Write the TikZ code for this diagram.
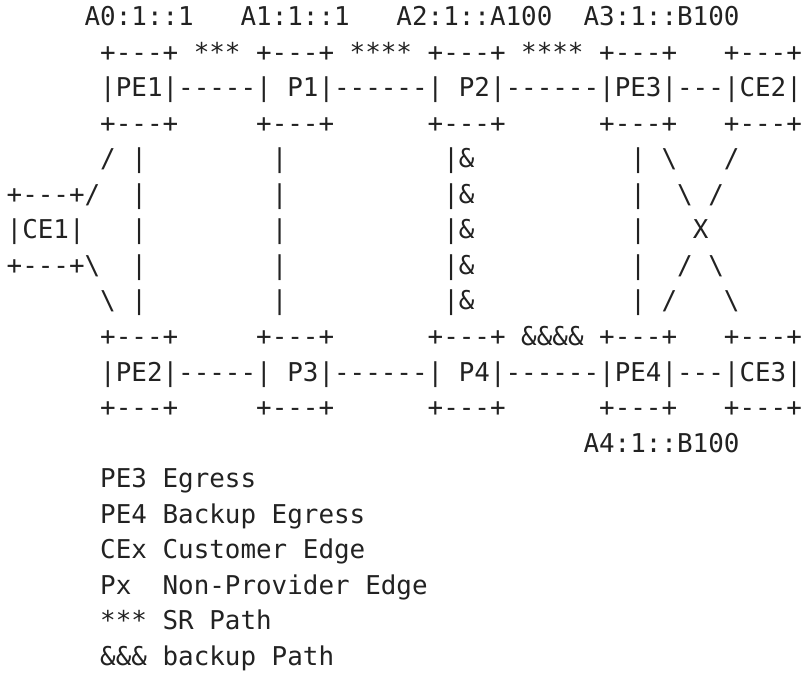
\documentclass[tikz,border=0pt]{standalone}
\usepackage{fontspec}
\setmonofont{DejaVu Sans Mono}
\definecolor{ink}{HTML}{222222}
\newcommand\asline[4]{\node[txt] (#1) at ({6.7+#2*15.59},{25.5+(#3-1)*35.55}) {#4};}
\begin{document}
\begin{tikzpicture}[x=1pt,y=-1pt,
  txt/.style={anchor=base west,inner sep=0pt,outer sep=0pt,text=ink,
    font=\ttfamily\fontsize{25.9}{30}\selectfont}]
\useasboundingbox (0,0) rectangle (804,673);
\asline{l1}{5}{1}{A0:1::1~~~A1:1::1~~~A2:1::A100~~A3:1::B100}
\asline{l2}{6}{2}{+---+~***~+---+~****~+---+~****~+---+~~~+---+}
\asline{l3}{6}{3}{|PE1|-----|~P1|------|~P2|------|PE3|---|CE2|}
\asline{l4}{6}{4}{+---+~~~~~+---+~~~~~~+---+~~~~~~+---+~~~+---+}
\asline{l5}{6}{5}{/~|~~~~~~~~|~~~~~~~~~~|\&~~~~~~~~~~|~\textbackslash~~~/}
\asline{l6}{0}{6}{+---+/~~|~~~~~~~~|~~~~~~~~~~|\&~~~~~~~~~~|~~\textbackslash~/}
\asline{l7}{0}{7}{|CE1|~~~|~~~~~~~~|~~~~~~~~~~|\&~~~~~~~~~~|~~~X}
\asline{l8}{0}{8}{+---+\textbackslash~~|~~~~~~~~|~~~~~~~~~~|\&~~~~~~~~~~|~~/~\textbackslash}
\asline{l9}{6}{9}{\textbackslash~|~~~~~~~~|~~~~~~~~~~|\&~~~~~~~~~~|~/~~~\textbackslash}
\asline{l10}{6}{10}{+---+~~~~~+---+~~~~~~+---+~\&\&\&\&~+---+~~~+---+}
\asline{l11}{6}{11}{|PE2|-----|~P3|------|~P4|------|PE4|---|CE3|}
\asline{l12}{6}{12}{+---+~~~~~+---+~~~~~~+---+~~~~~~+---+~~~+---+}
\asline{l13}{37}{13}{A4:1::B100}
\asline{l14}{6}{14}{PE3~Egress}
\asline{l15}{6}{15}{PE4~Backup~Egress}
\asline{l16}{6}{16}{CEx~Customer~Edge}
\asline{l17}{6}{17}{Px~~Non-Provider~Edge}
\asline{l18}{6}{18}{***~SR~Path}
\asline{l19}{6}{19}{\&\&\&~backup~Path}
\end{tikzpicture}
\end{document}
